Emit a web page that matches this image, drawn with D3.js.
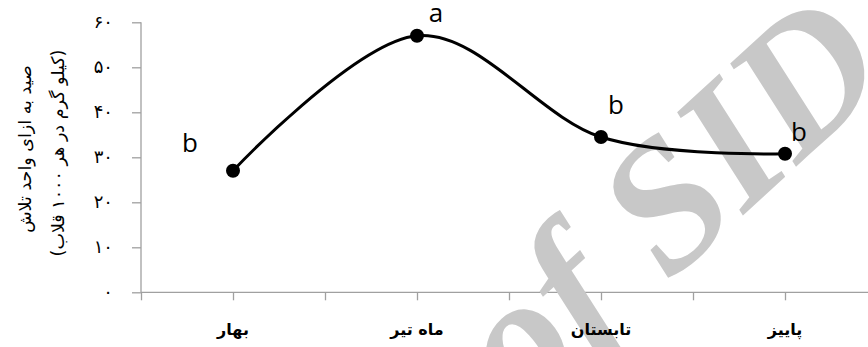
<!DOCTYPE html>
<html><head><meta charset="utf-8">
<script src="https://cdn.jsdelivr.net/npm/d3@7"></script>
<style>html,body{margin:0;padding:0;background:#fff;}svg{display:block;}</style>
</head><body>
<svg id="chart" width="868" height="347"></svg>
<script>
const categories = ["بهار", "ماه تیر", "تابستان", "پاییز"];
const values = [27.0, 57.0, 34.5, 30.8];
const groupLetters = ["b", "a", "b", "b"];
const yTicks = [0, 10, 20, 30, 40, 50, 60];
const yTitle1 = "صید به ازای واحد تلاش";
const yTitle2 = "(کیلو گرم در هر ۱۰۰۰ قلاب)";
const watermark = "Archive of SID";

// layout (not data)
const letterOffsets = [[-43, -19], [19, -14], [15, -23], [14, -13]];

const toFa = n => String(n).replace(/\d/g, d => "۰۱۲۳۴۵۶۷۸۹"[+d]);

const svg = d3.select("#chart");
const axisColor = "#a0a0a0";

const y = d3.scaleLinear().domain([0, 60]).range([292.3, 22.3]);
const x = d3.scaleLinear().domain([-0.5, categories.length - 0.5]).range([141, 877]);

// y axis
const yAxis = svg.append("g").attr("transform", "translate(141,0)")
  .call(d3.axisLeft(y).tickValues(yTicks).tickFormat(toFa).tickSize(9).tickPadding(19));
yAxis.select(".domain").attr("stroke", axisColor).attr("stroke-width", 1.3).attr("d", "M0,22.3V292.3");
yAxis.selectAll(".tick line").attr("stroke", axisColor).attr("stroke-width", 1.3);
yAxis.selectAll(".tick text").attr("fill", "#000").style("font-family", "DejaVu Sans").style("font-size", "18px").attr("dy", "0.3em");

// x axis
const xTickVals = d3.range(-0.5, categories.length - 0.5 + 0.01, 0.5);
const xAxis = svg.append("g").attr("transform", `translate(0,${y(0)})`)
  .call(d3.axisBottom(x).tickValues(xTickVals).tickFormat("").tickSize(8));
xAxis.select(".domain").attr("stroke", axisColor).attr("stroke-width", 1.3).attr("d", `M${x(-0.5)},0H${x(categories.length - 0.5)}`);
xAxis.selectAll(".tick line").attr("stroke", axisColor).attr("stroke-width", 1.3);

// watermark
svg.append("text")
  .attr("transform", "translate(895,76) rotate(-42.5)")
  .attr("text-anchor", "end")
  .style("font-family", "Liberation Serif").style("font-weight", "bold").style("font-style", "italic").style("font-size", "184px")
  .attr("fill", "#c8c8c8")
  .text(watermark);

svg.append("g").selectAll("text").data(categories).join("text")
  .attr("x", (d, i) => x(i)).attr("y", 335)
  .attr("text-anchor", "middle").attr("direction", "rtl")
  .style("font-family", "DejaVu Sans").style("font-size", "16px").style("font-weight", "bold").attr("fill", "#000")
  .text(d => d);

// y title
const yt = svg.append("g").style("font-family", "DejaVu Sans").style("font-size", "17.5px").attr("fill", "#000");
yt.append("text").attr("transform", "translate(31,149) rotate(-90)").attr("text-anchor", "middle").attr("direction", "rtl").text(yTitle1);
yt.append("text").attr("transform", "translate(64,153) rotate(-90)").attr("text-anchor", "middle").attr("direction", "rtl").text(yTitle2);

// line
const pts = values.map((v, i) => [x(i), y(v)]);
svg.append("path").datum(pts)
  .attr("d", d3.line().curve(d3.curveCardinal.tension(0)))
  .attr("fill", "none").attr("stroke", "#000").attr("stroke-width", 3);
svg.append("g").selectAll("circle").data(values).join("circle")
  .attr("cx", (d, i) => x(i)).attr("cy", d => y(d)).attr("r", 7).attr("fill", "#000");

svg.append("g").selectAll("text").data(groupLetters).join("text")
  .attr("x", (d, i) => x(i) + letterOffsets[i][0])
  .attr("y", (d, i) => y(values[i]) + letterOffsets[i][1])
  .attr("text-anchor", "middle")
  .style("font-family", "Open Sans").style("font-size", "26px").attr("fill", "#000")
  .text(d => d);
</script>
</body></html>
